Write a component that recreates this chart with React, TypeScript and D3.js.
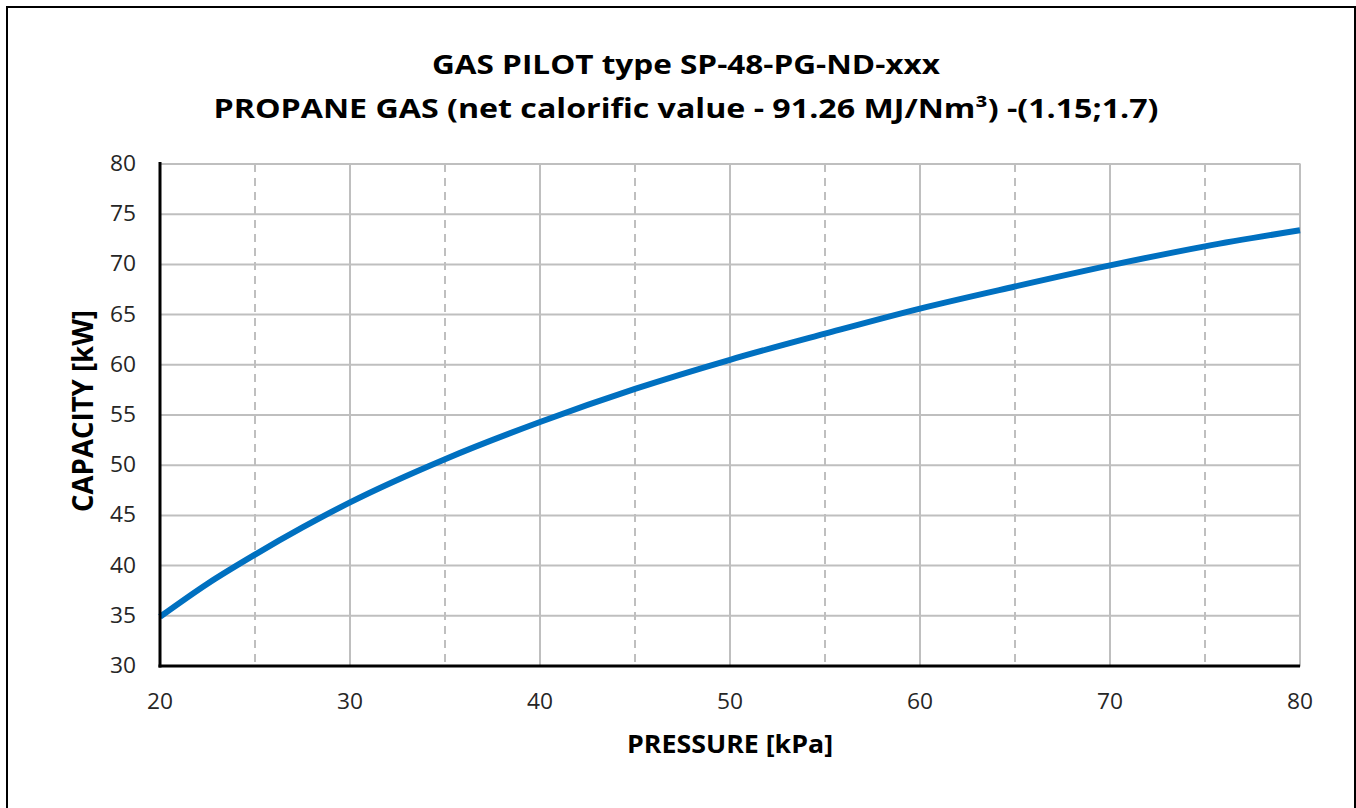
import * as d3 from 'd3';
import React, { useRef, useEffect } from 'react';

// pressure [kPa] vs capacity [kW]
const pressure = [20, 22.5, 25, 27.5, 30, 35, 40, 45, 50, 55, 60, 65, 70, 75, 80];
const capacity = [34.9, 38.2, 41.1, 43.8, 46.3, 50.6, 54.3, 57.6, 60.5, 63.1, 65.6, 67.8, 69.9, 71.8, 73.4];

const xTicks = [20, 30, 40, 50, 60, 70, 80];
const xDashed = [25, 35, 45, 55, 65, 75];
const yTicks = [30, 35, 40, 45, 50, 55, 60, 65, 70, 75, 80];

const titleLines = [
    'GAS PILOT type SP-48-PG-ND-xxx',
    'PROPANE GAS (net calorific value - 91.26 MJ/Nm³) -(1.15;1.7)',
];

const FONT = '"Open Sans", sans-serif';

const App: React.FC = () => {
    const svgRef = useRef<SVGSVGElement | null>(null);

    useEffect(() => {
        document.body.style.margin = '0';
        const width = 1356;
        const height = 808;

        const t = 164;
        const l = 160;
        const r = 56;
        const b = 142;
        const graphWidth = width - l - r;
        const graphHeight = height - t - b;

        const svg = d3.select(svgRef.current).attr('width', width).attr('height', height);
        svg.selectAll('*').remove();

        svg.append('rect').attr('width', width).attr('height', height).attr('fill', '#FFFFFF');
        svg.append('rect')
            .attr('x', 7).attr('y', 7)
            .attr('width', width - 8).attr('height', height)
            .attr('fill', 'none').attr('stroke', '#000').attr('stroke-width', 2);

        // title (text is wider than Open Sans, so stretch to the measured width)
        svg.append('text')
            .attr('x', 686).attr('y', 74)
            .attr('text-anchor', 'middle')
            .attr('font-family', FONT).attr('font-weight', 'bold').attr('font-size', 26)
            .attr('textLength', 508).attr('lengthAdjust', 'spacingAndGlyphs')
            .attr('fill', '#000')
            .text(titleLines[0]);
        svg.append('text')
            .attr('x', 686).attr('y', 118)
            .attr('text-anchor', 'middle')
            .attr('font-family', FONT).attr('font-weight', 'bold').attr('font-size', 26)
            .attr('textLength', 945).attr('lengthAdjust', 'spacingAndGlyphs')
            .attr('fill', '#000')
            .text(titleLines[1]);

        const g = svg.append('g').attr('transform', `translate(${l}, ${t})`);

        const xScale = d3.scaleLinear().domain([20, 80]).range([0, graphWidth]);
        const yScale = d3.scaleLinear().domain([30, 80]).range([graphHeight, 0]);

        // grid
        g.selectAll('.hgrid').data(yTicks).enter().append('line')
            .attr('x1', 0).attr('x2', graphWidth + 0.5)
            .attr('y1', d => yScale(d)).attr('y2', d => yScale(d))
            .attr('stroke', '#BFBFBF').attr('stroke-width', 2);
        g.selectAll('.vgrid').data(xTicks).enter().append('line')
            .attr('x1', d => xScale(d)).attr('x2', d => xScale(d))
            .attr('y1', 0).attr('y2', graphHeight)
            .attr('stroke', '#BFBFBF').attr('stroke-width', 2);
        g.selectAll('.vdash').data(xDashed).enter().append('line')
            .attr('x1', d => xScale(d)).attr('x2', d => xScale(d))
            .attr('y1', 0).attr('y2', graphHeight)
            .attr('stroke', '#BFBFBF').attr('stroke-width', 2)
            .attr('stroke-dasharray', '8,6');

        // curve
        const pts = pressure.map((p, i) => [p, capacity[i]] as [number, number]);
        const line = d3.line<[number, number]>()
            .x(d => xScale(d[0]))
            .y(d => yScale(d[1]))
            .curve(d3.curveMonotoneX);
        g.append('path')
            .datum(pts)
            .attr('d', line)
            .attr('fill', 'none')
            .attr('stroke', '#0070C0')
            .attr('stroke-width', 6);

        // axes lines
        g.append('line')
            .attr('x1', 0).attr('x2', 0).attr('y1', -2).attr('y2', graphHeight + 1.5)
            .attr('stroke', '#000').attr('stroke-width', 3);
        g.append('line')
            .attr('x1', -1.5).attr('x2', graphWidth).attr('y1', graphHeight).attr('y2', graphHeight)
            .attr('stroke', '#000').attr('stroke-width', 3);

        // tick labels
        g.selectAll('.xlab').data(xTicks).enter().append('text')
            .attr('x', d => xScale(d)).attr('y', graphHeight + 43)
            .attr('text-anchor', 'middle')
            .attr('font-family', FONT).attr('font-size', 21).attr('fill', '#262626')
            .attr('textLength', 26).attr('lengthAdjust', 'spacingAndGlyphs')
            .text(d => d);
        g.selectAll('.ylab').data(yTicks).enter().append('text')
            .attr('x', -24).attr('y', d => yScale(d) + 7)
            .attr('text-anchor', 'end')
            .attr('font-family', FONT).attr('font-size', 21).attr('fill', '#262626')
            .attr('textLength', 26).attr('lengthAdjust', 'spacingAndGlyphs')
            .text(d => d);

        // axis titles
        svg.append('text')
            .attr('x', 730).attr('y', 753)
            .attr('text-anchor', 'middle')
            .attr('font-family', FONT).attr('font-weight', 'bold').attr('font-size', 25)
            .attr('textLength', 206).attr('lengthAdjust', 'spacingAndGlyphs')
            .attr('fill', '#000')
            .text('PRESSURE [kPa]');
        svg.append('text')
            .attr('transform', `translate(93, 411) rotate(-90)`)
            .attr('text-anchor', 'middle')
            .attr('font-family', FONT).attr('font-weight', 'bold').attr('font-size', 28)
            .attr('textLength', 202).attr('lengthAdjust', 'spacingAndGlyphs')
            .attr('fill', '#000')
            .text('CAPACITY [kW]');
    }, []);

    return <svg ref={svgRef}></svg>;
};

export default App;
